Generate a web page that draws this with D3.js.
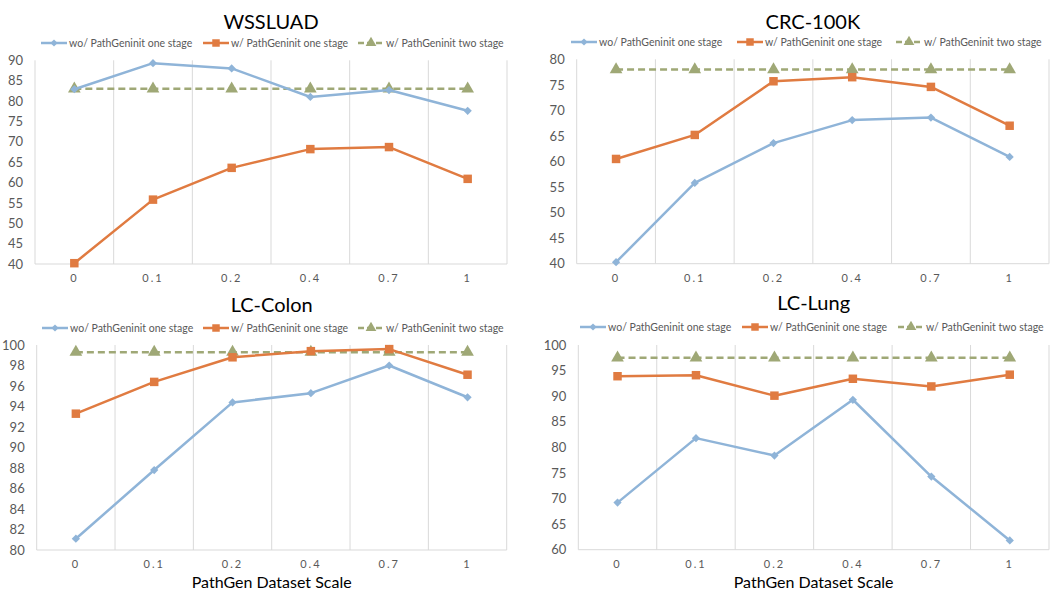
<!DOCTYPE html>
<html>
<head>
<meta charset="utf-8">
<script src="https://cdn.jsdelivr.net/npm/d3@7"></script>
<style>
  body { margin: 0; background: #fff; }
  svg { display: block; font-family: Lato, "Open Sans", sans-serif; }
</style>
</head>
<body>
<svg id="chart" width="1050" height="591"></svg>
<script>
// x categories shared by all panels
const scales = ["0", "0.1", "0.2", "0.4", "0.7", "1"];
const seriesNames = ["wo/ PathGeninit one stage", "w/ PathGeninit one stage", "w/ PathGeninit two stage"];

// WSSLUAD
const wssluadWo = [82.9, 89.3, 88.0, 81.0, 82.7, 77.6];
const wssluadOne = [40.2, 55.8, 63.6, 68.2, 68.7, 60.9];
const wssluadTwo = [83.0, 83.0, 83.0, 83.0, 83.0, 83.0];

// CRC-100K
const crcWo = [40.3, 55.8, 63.6, 68.1, 68.6, 60.9];
const crcOne = [60.5, 65.2, 75.7, 76.5, 74.6, 67.0];
const crcTwo = [78.0, 78.0, 78.0, 78.0, 78.0, 78.0];

// LC-Colon
const colonWo = [81.1, 87.8, 94.4, 95.3, 98.0, 94.9];
const colonOne = [93.3, 96.4, 98.8, 99.4, 99.6, 97.1];
const colonTwo = [99.3, 99.3, 99.3, 99.3, 99.3, 99.3];

// LC-Lung
const lungWo = [69.2, 81.8, 78.4, 89.3, 74.3, 61.8];
const lungOne = [93.9, 94.1, 90.1, 93.4, 91.9, 94.2];
const lungTwo = [97.5, 97.5, 97.5, 97.5, 97.5, 97.5];

const svg = d3.select("#chart");
const colors = ["#8fb4d8", "#e07b41", "#9fa876"];
const gridColor = "#d9d9d9";
const textColor = "#595959";
// diamond = rotated square
const symbols = [d3.symbolSquare, d3.symbolSquare, d3.symbolTriangle];
const rotations = [45, 0, 0];

function drawPanel(p) {
    const g = svg.append("g");
    const x = d3.scaleBand().domain(scales).range([p.left, p.right]);
    const y = d3.scaleLinear().domain(p.yDomain).range([p.bottom, p.top]);

    // vertical gridlines at band edges
    const edges = scales.map(s => x(s)).concat([p.right]);
    g.selectAll(".vgrid").data(edges).join("line")
        .attr("x1", d => d).attr("x2", d => d)
        .attr("y1", p.top).attr("y2", p.bottom)
        .attr("stroke", gridColor).attr("stroke-width", 1);

    // baseline
    g.append("line")
        .attr("x1", p.left).attr("x2", p.right)
        .attr("y1", p.bottom).attr("y2", p.bottom)
        .attr("stroke", gridColor).attr("stroke-width", 1);

    // y axis
    const yAxis = g.append("g")
        .attr("transform", `translate(${p.left - 10},0)`)
        .call(d3.axisLeft(y).tickValues(p.yTicks).tickSize(0).tickPadding(2));
    yAxis.select(".domain").remove();
    yAxis.selectAll("text").attr("fill", textColor).style("font-size", "13px")
        .style("font-family", "Lato, sans-serif");

    // x axis
    const xAxis = g.append("g")
        .attr("transform", `translate(0,${p.bottom + 8})`)
        .call(d3.axisBottom(x).tickSize(0).tickPadding(2));
    xAxis.select(".domain").remove();
    xAxis.selectAll("text").attr("fill", textColor).style("font-size", "11px")
        .style("font-family", "Lato, sans-serif")
        .style("letter-spacing", "2px");

    const cx = d => x(d.cat) + x.bandwidth() / 2;
    const line = d3.line().x(cx).y(d => y(d.v));

    const series = p.series.map((vals, i) => ({
        i: i,
        pts: vals.map((v, j) => ({cat: scales[j], v: v}))
    }));

    // draw in reverse so the blue line is on top, like the reference
    [2, 1, 0].forEach(i => {
        const s = series[i];
        g.append("path")
            .attr("d", line(s.pts))
            .attr("fill", "none")
            .attr("stroke", colors[i])
            .attr("stroke-width", 2.5)
            .attr("stroke-dasharray", i === 2 ? "7,4" : null)
            .attr("stroke-linejoin", "round");
        const size = [34, 72, 70][i];
        g.selectAll(".m" + i).data(s.pts).join("path")
            .attr("transform", d => `translate(${cx(d)},${y(d.v)}) rotate(${rotations[i]})`)
            .attr("d", d3.symbol().type(symbols[i]).size(size))
            .attr("fill", colors[i]);
    });

    // title
    g.append("text")
        .attr("x", (p.left + p.right) / 2)
        .attr("y", p.titleY)
        .attr("text-anchor", "middle")
        .style("font-size", "20px")
        .attr("fill", "#000")
        .text(p.title);

    // legend
    const lg = g.append("g").attr("transform", `translate(0,${p.legendY})`);
    p.legendX.forEach((lx, i) => {
        lg.append("line")
            .attr("x1", lx).attr("x2", lx + 26)
            .attr("y1", 0).attr("y2", 0)
            .attr("stroke", colors[i]).attr("stroke-width", 2.5)
            .attr("stroke-dasharray", i === 2 ? "6,3" : null);
        lg.append("path")
            .attr("transform", `translate(${lx + 13},0) rotate(${rotations[i]})`)
            .attr("d", d3.symbol().type(symbols[i]).size([26, 56, 50][i]))
            .attr("fill", colors[i]);
        lg.append("text")
            .attr("x", lx + 28)
            .attr("y", 4)
            .attr("fill", textColor)
            .style("font-size", "10.5px")
            .text(seriesNames[i]);
    });

    if (p.xTitle) {
        g.append("text")
            .attr("x", (p.left + p.right) / 2)
            .attr("y", 588)
            .attr("text-anchor", "middle")
            .attr("fill", "#000")
            .style("font-size", "16px")
            .text(p.xTitle);
    }
}

drawPanel({
    title: "WSSLUAD", titleY: 29, legendY: 43, legendX: [41, 203, 358],
    left: 35, right: 507, top: 60.3, bottom: 264,
    yDomain: [40, 90], yTicks: d3.range(40, 91, 5),
    series: [wssluadWo, wssluadOne, wssluadTwo]
});
drawPanel({
    title: "CRC-100K", titleY: 29, legendY: 42, legendX: [571, 737, 896],
    left: 576.7, right: 1049, top: 59.3, bottom: 263.7,
    yDomain: [40, 80], yTicks: d3.range(40, 81, 5),
    series: [crcWo, crcOne, crcTwo]
});
drawPanel({
    title: "LC-Colon", titleY: 312, legendY: 328, legendX: [42, 203, 358],
    left: 36.7, right: 506.7, top: 345, bottom: 550,
    yDomain: [80, 100], yTicks: d3.range(80, 101, 2),
    series: [colonWo, colonOne, colonTwo], xTitle: "PathGen Dataset Scale"
});
drawPanel({
    title: "LC-Lung", titleY: 310, legendY: 327, legendX: [580, 742, 898],
    left: 578.3, right: 1049, top: 345, bottom: 549.7,
    yDomain: [60, 100], yTicks: d3.range(60, 101, 5),
    series: [lungWo, lungOne, lungTwo], xTitle: "PathGen Dataset Scale"
});
</script>
</body>
</html>
